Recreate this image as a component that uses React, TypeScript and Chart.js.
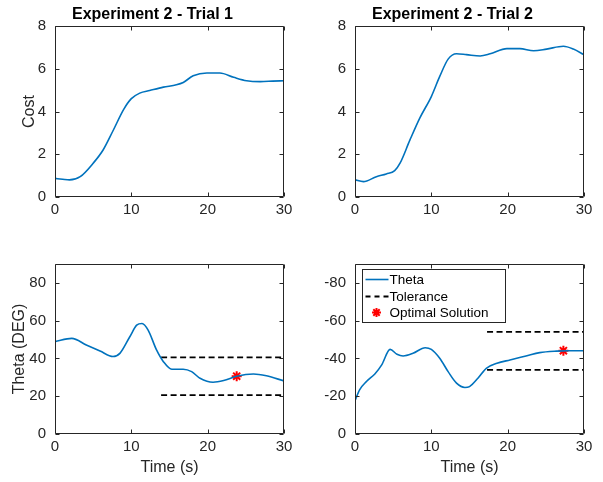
import React, { useEffect, useRef } from "react";
import { Chart, registerables } from "chart.js";
Chart.register(...registerables);

// ---------- data ----------
const timeTicks = [0, 10, 20, 30];
const costTicks = [0, 2, 4, 6, 8];
const theta1Ticks = [0, 20, 40, 60, 80];
const theta2Ticks = [0, -20, -40, -60, -80];

const titles = ["Experiment 2 - Trial 1", "Experiment 2 - Trial 2"];
const legendLabels = ["Theta", "Tolerance", "Optimal Solution"];

const cost1Time = [0, 1, 1.9, 3.3, 5, 6.3, 7.6, 9, 10, 11.1, 12.4, 14.2, 15.9, 16.8, 18.1, 19.9, 21.6, 23.4, 25.1, 26.9, 28.5, 30];
const cost1Values = [0.87, 0.83, 0.8, 0.95, 1.58, 2.2, 3.1, 4.1, 4.6, 4.86, 4.98, 5.14, 5.25, 5.36, 5.67, 5.8, 5.8, 5.6, 5.44, 5.4, 5.42, 5.44];

const cost2Time = [0, 1.1, 2.8, 4.1, 5.2, 5.9, 7.2, 8.5, 10, 11.1, 12.2, 13.3, 14.6, 16.4, 17.7, 19.9, 21.6, 23.4, 25.1, 27.3, 28.6, 30];
const cost2Values = [0.8, 0.72, 0.95, 1.08, 1.23, 1.58, 2.67, 3.7, 4.7, 5.64, 6.45, 6.7, 6.66, 6.6, 6.7, 6.94, 6.94, 6.84, 6.92, 7.05, 6.92, 6.66];

const theta1Time = [0, 2.2, 4.1, 5.9, 7.6, 8.5, 9.8, 10.7, 11.4, 12.2, 13.3, 14.2, 15.3, 16.8, 17.9, 19, 20.7, 22.1, 23.8, 26, 27.7, 30];
const theta1Values = [48.9, 50.6, 47.1, 43.9, 41, 42.7, 51.5, 57.6, 58.5, 55, 44.5, 38.3, 34.3, 34.3, 33, 29.5, 27.4, 28.3, 30.6, 31.8, 30.8, 28.1];

const theta2Time = [0, 0.6, 1.5, 2.6, 3.5, 4.6, 5.5, 6.3, 7.6, 9.2, 10, 11.1, 12.2, 13.3, 14.4, 15, 16.1, 17.2, 18.6, 20.3, 22.4, 24.2, 26.4, 28, 30];
const theta2Values = [-17.6, -23.4, -27.8, -31.8, -36.6, -44.8, -42.2, -41.3, -42.7, -45.7, -44.8, -40.1, -33, -26.9, -24.6, -25.1, -29.5, -34.8, -37.4, -39.2, -41.3, -43.1, -43.9, -44.1, -44.1];

const tol1Time = [13.9, 30];
const tol1Upper = [40.6, 40.6];
const tol1Lower = [20.6, 20.6];
const opt1Time = [23.8];
const opt1Theta = [30.6];

const tol2Time = [17.3, 30];
const tol2Upper = [-54.1, -54.1];
const tol2Lower = [-33.9, -33.9];
const opt2Time = [27.3];
const opt2Theta = [-44.1];

// ---------- styling ----------
const FONT = "'Liberation Sans', Arial, Helvetica, sans-serif";
const AXIS_COLOR = "#262626";
const BLUE = "#0072BD";

const pts = (xs: number[], ys: number[]) => xs.map((x, i) => ({ x, y: ys[i] }));

const lineDs = (label: string, xs: number[], ys: number[]) => ({
  label,
  data: pts(xs, ys),
  borderColor: BLUE,
  borderWidth: 1.6,
  pointRadius: 0,
  cubicInterpolationMode: "monotone",
  fill: false,
});
const tolDs = (label: string, xs: number[], ys: number[]) => ({
  label,
  data: pts(xs, ys),
  borderColor: "#000",
  borderWidth: 1.8,
  borderDash: [6, 3.5],
  pointRadius: 0,
  fill: false,
});
const starDs = (label: string, xs: number[], ys: number[]) => ({
  label,
  data: pts(xs, ys),
  showLine: false,
  borderColor: "#ff0000",
  backgroundColor: "#ff0000",
  borderWidth: 2,
  pointStyle: "star",
  pointRadius: 5,
});

const boxPlugin = {
  id: "boxTicks",
  afterDraw(chart: any) {
    const { ctx, chartArea: a, scales } = chart;
    const o = chart.options.plugins.boxTicks || {};
    const L = Math.round(a.left) + 0.5;
    const R = Math.round(a.right) - 0.5;
    const T = Math.round(a.top) + 0.5;
    const B = Math.round(a.bottom) - 0.5;
    const tl = 4;
    ctx.save();
    ctx.strokeStyle = AXIS_COLOR;
    ctx.lineWidth = 1;
    ctx.setLineDash([]);
    ctx.beginPath();
    ctx.rect(L, T, R - L, B - T);
    for (const t of scales.x.ticks) {
      const px = Math.round(scales.x.getPixelForValue(t.value)) + 0.5;
      ctx.moveTo(px, B);
      ctx.lineTo(px, B - tl);
      ctx.moveTo(px, T);
      ctx.lineTo(px, T + tl);
    }
    for (const t of scales.y.ticks) {
      const py = Math.round(scales.y.getPixelForValue(t.value)) + 0.5;
      ctx.moveTo(L, py);
      ctx.lineTo(L + tl, py);
      ctx.moveTo(R, py);
      ctx.lineTo(R - tl, py);
    }
    ctx.stroke();

    if (o.title) {
      ctx.fillStyle = "#000";
      ctx.font = `bold 16px ${FONT}`;
      ctx.textAlign = "center";
      ctx.textBaseline = "alphabetic";
      ctx.fillText(o.title, 152.5, 19);
    }

    if (o.legend) {
      const x0 = Math.round(a.left) + 7.5;
      const y0 = Math.round(a.top) + 5.5;
      const w = 143;
      const h = 53;
      ctx.fillStyle = "#fff";
      ctx.fillRect(x0, y0, w, h);
      ctx.strokeStyle = AXIS_COLOR;
      ctx.lineWidth = 1;
      ctx.strokeRect(x0, y0, w, h);
      const rows = [10, 27, 43];
      ctx.font = `13.5px ${FONT}`;
      ctx.textAlign = "left";
      ctx.textBaseline = "middle";
      legendLabels.forEach((lab, i) => {
        const y = y0 + rows[i];
        if (i === 0) {
          ctx.strokeStyle = BLUE;
          ctx.lineWidth = 1.6;
          ctx.setLineDash([]);
          ctx.beginPath();
          ctx.moveTo(x0 + 3, y);
          ctx.lineTo(x0 + 26, y);
          ctx.stroke();
        } else if (i === 1) {
          ctx.strokeStyle = "#000";
          ctx.lineWidth = 1.8;
          ctx.setLineDash([5, 4]);
          ctx.beginPath();
          ctx.moveTo(x0 + 3, y);
          ctx.lineTo(x0 + 26, y);
          ctx.stroke();
          ctx.setLineDash([]);
        } else {
          ctx.strokeStyle = "#ff0000";
          ctx.lineWidth = 2;
          const cx = x0 + 14;
          const r = 4.5;
          ctx.beginPath();
          for (let k = 0; k < 4; k++) {
            const ang = (k * Math.PI) / 4;
            ctx.moveTo(cx - r * Math.cos(ang), y - r * Math.sin(ang));
            ctx.lineTo(cx + r * Math.cos(ang), y + r * Math.sin(ang));
          }
          ctx.stroke();
        }
        ctx.fillStyle = "#000";
        ctx.fillText(lab, x0 + 27, y + 0.5);
      });
    }
    ctx.restore();
  },
};

interface PanelOpts {
  datasets: any[];
  yMin: number;
  yMax: number;
  yTicks: number[];
  reverse?: boolean;
  yTitle?: string;
  yTitlePad?: number;
  xTitle?: string;
  xHeight: number;
  padTop: number;
  padRight: number;
  title?: string;
  legend?: boolean;
}

function makeConfig(p: PanelOpts): any {
  const tickFont = { family: FONT, size: 15 };
  const labelFont = { family: FONT, size: 16 };
  return {
    type: "line",
    data: { datasets: p.datasets },
    plugins: [boxPlugin],
    options: {
      animation: false,
      responsive: false,
      events: [],
      layout: { padding: { top: p.padTop, right: p.padRight, left: 0, bottom: 0 } },
      plugins: {
        legend: { display: false },
        title: { display: false },
        tooltip: { enabled: false },
        boxTicks: { title: p.title, legend: p.legend },
      },
      scales: {
        x: {
          type: "linear",
          min: 0,
          max: 30,
          afterBuildTicks: (s: any) => {
            s.ticks = timeTicks.map((v) => ({ value: v }));
          },
          afterFit: (s: any) => {
            s.height = p.xHeight;
          },
          grid: { display: false, drawTicks: false },
          border: { display: false },
          ticks: { padding: 4, font: tickFont, color: AXIS_COLOR, maxRotation: 0, autoSkip: false },
          title: {
            display: !!p.xTitle,
            text: p.xTitle || "",
            font: labelFont,
            color: AXIS_COLOR,
            padding: { top: 0, bottom: 4.4 },
          },
        },
        y: {
          type: "linear",
          min: p.yMin,
          max: p.yMax,
          reverse: !!p.reverse,
          afterBuildTicks: (s: any) => {
            s.ticks = p.yTicks.map((v) => ({ value: v }));
          },
          afterFit: (s: any) => {
            s.width = 55;
          },
          grid: { display: false, drawTicks: false },
          border: { display: false },
          ticks: { padding: 9, font: tickFont, color: AXIS_COLOR, autoSkip: false },
          title: {
            display: !!p.yTitle,
            text: p.yTitle || "",
            font: labelFont,
            color: AXIS_COLOR,
            padding: { top: p.yTitlePad || 0, bottom: 0 },
          },
        },
      },
    },
  };
}

function Panel(props: { config: any; left: number; top: number; width: number; height: number }) {
  const ref = useRef<HTMLCanvasElement>(null);
  useEffect(() => {
    const chart = new Chart(ref.current as HTMLCanvasElement, props.config);
    return () => chart.destroy();
  }, []);
  return (
    <canvas
      ref={ref}
      width={props.width}
      height={props.height}
      style={{ position: "absolute", left: props.left, top: props.top, width: props.width, height: props.height }}
    />
  );
}

export default function App() {
  const tl = makeConfig({
    datasets: [lineDs("Cost", cost1Time, cost1Values)],
    yMin: 0,
    yMax: 8,
    yTicks: costTicks,
    yTitle: "Cost",
    yTitlePad: 20.4,
    xHeight: 43,
    padTop: 26,
    padRight: 16,
    title: titles[0],
  });
  const tr = makeConfig({
    datasets: [lineDs("Cost", cost2Time, cost2Values)],
    yMin: 0,
    yMax: 8,
    yTicks: costTicks,
    xHeight: 43,
    padTop: 26,
    padRight: 19,
    title: titles[1],
  });
  const bl = makeConfig({
    datasets: [
      lineDs(legendLabels[0], theta1Time, theta1Values),
      tolDs(legendLabels[1], tol1Time, tol1Upper),
      tolDs(legendLabels[1], tol1Time, tol1Lower),
      starDs(legendLabels[2], opt1Time, opt1Theta),
    ],
    yMin: 0,
    yMax: 90,
    yTicks: theta1Ticks,
    yTitle: "Theta (DEG)",
    yTitlePad: 10.4,
    xTitle: "Time (s)",
    xHeight: 48,
    padTop: 24,
    padRight: 16,
  });
  const br = makeConfig({
    datasets: [
      lineDs(legendLabels[0], theta2Time, theta2Values),
      tolDs(legendLabels[1], tol2Time, tol2Upper),
      tolDs(legendLabels[1], tol2Time, tol2Lower),
      starDs(legendLabels[2], opt2Time, opt2Theta),
    ],
    yMin: -90,
    yMax: 0,
    reverse: true,
    yTicks: theta2Ticks,
    xTitle: "Time (s)",
    xHeight: 48,
    padTop: 24,
    padRight: 19,
    legend: true,
  });
  return (
    <div style={{ position: "absolute", left: 0, top: 0, width: 603, height: 482, background: "#fff" }}>
      <Panel config={tl} left={0} top={0} width={300} height={240} />
      <Panel config={tr} left={300} top={0} width={303} height={240} />
      <Panel config={bl} left={0} top={240} width={300} height={242} />
      <Panel config={br} left={300} top={240} width={303} height={242} />
    </div>
  );
}
